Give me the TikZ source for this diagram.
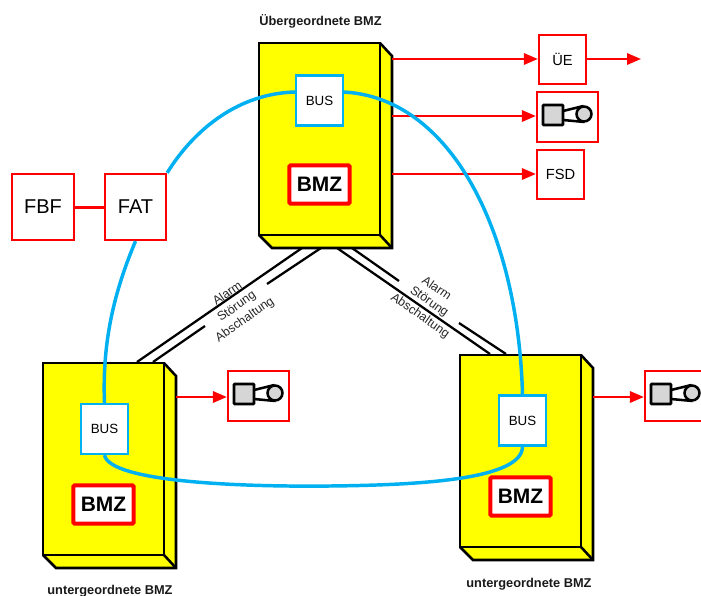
\documentclass[tikz,border=0pt]{standalone}
\usepackage{fontspec}
\setmainfont{Liberation Sans}
\usetikzlibrary{arrows.meta,calc}
\definecolor{busblue}{HTML}{00B0F0}
\definecolor{cabinet}{RGB}{255,255,0}
\definecolor{alarmred}{RGB}{255,0,0}
\tikzset{
  x=0.75pt,y=-0.75pt,
  cubeline/.style={draw=black,line width=1.9pt,line join=miter},
  redbox/.style={draw=alarmred,fill=white,line width=1.7pt,inner sep=0pt,font=\fontsize{11}{13}\selectfont},
  bmzbox/.style={draw=alarmred,fill=white,line width=3pt,rounded corners=1pt,inner sep=0pt,minimum width=45.25pt,minimum height=28.75pt,font=\bfseries\fontsize{15.7}{18}\selectfont},
  busbox/.style={draw=busblue,fill=white,line width=1.7pt,inner sep=0pt,minimum width=35.25pt,minimum height=37.5pt,font=\fontsize{10}{12}\selectfont},
  redarrow/.style={draw=alarmred,line width=1.7pt,-{Triangle[length=10.5pt,width=8.5pt,fill=alarmred]}},
  busline/.style={draw=busblue,line width=2.6pt},
  signal/.style={draw=black,line width=1.7pt},
  hornline/.style={draw=black,line width=1.9pt},
  sigtext/.style={font=\fontsize{9.3}{11}\selectfont,inner sep=0pt,text=black!85},
  caption/.style={font=\bfseries\fontsize{9.6}{11}\selectfont,inner sep=0pt,text=black!90},
}
\newcommand{\mycube}[3]{% x1, y1, y2 : front width 121, depth 12/13
  \fill[cabinet] (#1,#2) -- ({#1+121},#2) -- ({#1+133},{#2+13}) -- ({#1+133},{#3+13}) -- ({#1+13},{#3+13}) -- (#1,#3) -- cycle;
  \draw[cubeline] (#1,#2) rectangle ({#1+121},#3);
  \draw[cubeline] ({#1+121},#2) -- ({#1+133},{#2+13}) -- ({#1+133},{#3+13}) -- ({#1+13},{#3+13}) -- (#1,#3);
  \draw[cubeline] ({#1+121},#3) -- ({#1+133},{#3+13});
}
\newcommand{\myhorn}[2]{% box centre
  \draw[hornline] ({#1-4.5},{#2-6}) -- ({#1+16},{#2-11});
  \draw[hornline] ({#1-4.5},{#2+3}) -- ({#1+17},{#2+5});
  \draw[hornline,fill=black!16,rounded corners=0.5pt] ({#1-24.5},{#2-12}) rectangle ({#1-4.5},{#2+8});
  \draw[hornline,fill=black!16] ({#1+16.5},{#2-3}) circle[radius=7.5];
}
\begin{document}
\begin{tikzpicture}
\useasboundingbox (0,0) rectangle (701,596);
\clip (0,0) rectangle (701,596);

% signal lines
\coordinate (t1) at (302,248); \coordinate (t2) at (321,248);
\coordinate (t3) at (337,248); \coordinate (t4) at (352,248);
\coordinate (l1) at (137,362); \coordinate (l2) at (153,362);
\coordinate (r1) at (490,354); \coordinate (r2) at (506,354);
\coordinate (g1) at (267,284); \coordinate (g2) at (205,326);
\coordinate (g3) at (399,281); \coordinate (g4) at (459,323);
\draw[signal] (t1) -- (l1);
\draw[signal] (t2) -- (g1);
\draw[signal] (g2) -- (l2);
\draw[signal] (t3) -- (r1);
\draw[signal] (t4) -- (g3);
\draw[signal] (g4) -- (r2);

% cabinets
\mycube{259}{43}{235}
\mycube{43}{363}{555}
\mycube{460}{355}{547}

% boxes
\node[redbox,minimum width=35.25pt,minimum height=36.75pt] (ue) at (562.5,59.5) {ÜE};
\node[redbox,minimum width=45.75pt,minimum height=37.5pt] (hornA) at (567.5,117) {};
\node[redbox,minimum width=35.25pt,minimum height=36.75pt] (fsd) at (560.5,174.5) {FSD};
\node[redbox,minimum width=45.75pt,minimum height=37.5pt] (hornL) at (258.5,396) {};
\node[redbox,minimum width=45.75pt,minimum height=37.5pt] (hornR) at (675.5,396) {};
\node[redbox,minimum width=46.5pt,minimum height=49.5pt,font=\fontsize{15}{18}\selectfont] (fbf) at (43,207) {FBF};
\node[redbox,minimum width=45.75pt,minimum height=49.5pt,font=\fontsize{15}{18}\selectfont] (fat) at (135.5,207) {FAT};
\node[bmzbox] (bmzT) at (319.5,184.5) {BMZ};
\node[bmzbox] (bmzL) at (103.5,504.5) {BMZ};
\node[bmzbox] (bmzR) at (520.5,496.5) {BMZ};
\node[busbox] (busT) at (319.5,100.5) {BUS};
\node[busbox] (busL) at (104.5,429) {BUS};
\node[busbox] (busR) at (522.5,420.5) {BUS};

\myhorn{567.5}{117}
\myhorn{258.5}{396}
\myhorn{675.5}{396}

% red arrows
\coordinate (o1) at (392,59); \coordinate (o2) at (392,116); \coordinate (o3) at (392,174);
\coordinate (o4) at (176,397); \coordinate (o5) at (593,397); \coordinate (o6) at (641,59);
\draw[redarrow] (o1) -- (ue.west |- o1);
\draw[redarrow] (o2) -- (hornA.west |- o2);
\draw[redarrow] (o3) -- (fsd.west |- o3);
\draw[redarrow] (ue.east |- o6) -- (o6);
\draw[redarrow] (o4) -- (hornL.west |- o4);
\draw[redarrow] (o5) -- (hornR.west |- o5);
\draw[draw=alarmred,line width=2.25pt] (fbf) -- (fat);

% bus
\coordinate (bt1) at (296,92); \coordinate (bt2) at (343,92);
\draw[busline] (fat.north east) .. controls (195,128) and (240,93) .. (bt1);
\draw[busline] (bt2) .. controls (450,97) and (518,230) .. (busR.north);
\draw[busline] (fat.south) .. controls (115,290) and (102,340) .. (busL.north);
\coordinate (bm) at (330,486);
\draw[busline] (busL.south) .. controls (110,482) and (240,487) .. (bm) .. controls (430,485) and (522,478) .. (busR.south);

% labels
\node[sigtext,rotate=35] (a1) at (227,293) {Alarm};
\node[sigtext,rotate=35] (a2) at (237,307) {Störung};
\node[sigtext,rotate=35] (a3) at (245,320) {Abschaltung};
\node[sigtext,rotate=-35] (b1) at (437,288) {Alarm};
\node[sigtext,rotate=-35] (b2) at (429,302) {Störung};
\node[sigtext,rotate=-35] (b3) at (420,316) {Abschaltung};
\node[caption] (cT) at (320.5,21) {Übergeordnete BMZ};
\node[caption] (cL) at (110,591) {untergeordnete BMZ};
\node[caption] (cR) at (529,584) {untergeordnete BMZ};
\end{tikzpicture}
\end{document}
